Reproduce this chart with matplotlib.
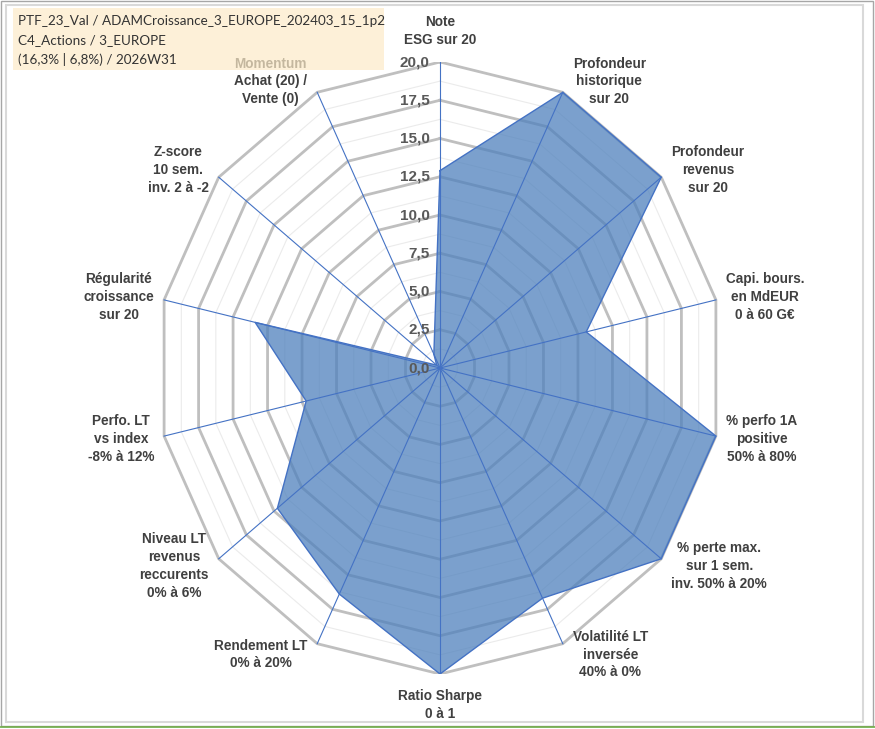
import matplotlib.pyplot as plt
import numpy as np
from matplotlib.patches import Rectangle

# Axis labels, clockwise from the top
categories = [
    "Note\nESG sur 20",
    "Profondeur\nhistorique\nsur 20",
    "Profondeur\nrevenus\nsur 20",
    "Capi. bours.\nen MdEUR\n0 à 60 G€",
    "% perfo 1A\npositive\n50% à 80%",
    "% perte max.\nsur 1 sem.\ninv. 50% à 20%",
    "Volatilité LT\ninversée\n40% à 0%",
    "Ratio Sharpe\n0 à 1",
    "Rendement LT\n0% à 20%",
    "Niveau LT\nrevenus\nreccurents\n0% à 6%",
    "Perfo. LT\nvs index\n-8% à 12%",
    "Régularité\ncroissance\nsur 20",
    "Z-score\n10 sem.\ninv. 2 à -2",
    "Momentum\nAchat (20) /\nVente (0)",
]
scores = [12.9, 20.0, 20.0, 10.6, 20.0, 20.0, 16.7, 20.0, 16.4, 14.7, 9.7, 13.4, 0.3, 1.0]
major_ticks = [0, 2.5, 5, 7.5, 10, 12.5, 15, 17.5, 20]
tick_labels = ["0,0", "2,5", "5,0", "7,5", "10,0", "12,5", "15,0", "17,5", "20,0"]
title_lines = [
    "PTF_23_Val / ADAMCroissance_3_EUROPE_202403_15_1p2",
    "C4_Actions / 3_EUROPE",
    "(16,3% | 6,8%) / 2026W31",
]

W, H = 875, 729
fig = plt.figure(figsize=(W / 100, H / 100), dpi=100)

# chart frame
fig.patches.append(Rectangle((6 / W, 1 - 722 / H), 857 / W, 717 / H, transform=fig.transFigure,
                             fill=False, edgecolor="#D9D9D9", lw=1.5))
fig.patches.append(Rectangle((1 / W, 1 - 726 / H), 872 / W, 725 / H, transform=fig.transFigure,
                             fill=False, edgecolor="#A6A6A6", lw=1))
fig.lines.append(plt.Line2D([0, 1], [1 - 726.5 / H] * 2, transform=fig.transFigure,
                            color="#70AD47", lw=1.2))

# radar area: centre at (440, 368) px, radii 283 px (x) and 306 px (y)
cx, cy, rx, ry = 440, 368, 283, 306
ax = fig.add_axes([(cx - rx) / W, 1 - (cy + ry) / H, 2 * rx / W, 2 * ry / H])
ax.set_xlim(-20, 20)
ax.set_ylim(-20, 20)
ax.axis("off")

n = len(categories)
theta = np.arange(n) * 2 * np.pi / n
sx, cy_ = np.sin(theta), np.cos(theta)

def ring(r):
    return np.append(r * sx, r * sx[0]), np.append(r * cy_, r * cy_[0])

# minor then major polygon grid
for r in np.arange(1.25, 20, 2.5):
    x, y = ring(r)
    ax.plot(x, y, color="#EBEBEB", lw=0.8, zorder=1)
for r in major_ticks[1:]:
    x, y = ring(r)
    ax.plot(x, y, color="#BFBFBF", lw=2.0, zorder=1, solid_joinstyle="miter")

# data polygon
vals = np.array(scores)
px = np.append(vals * sx, vals[0] * sx[0])
py = np.append(vals * cy_, vals[0] * cy_[0])
ax.fill(px, py, color="#4F81BD", alpha=0.75, zorder=2, lw=0)
ax.plot(px, py, color="#4472C4", lw=1.0, zorder=3)

# spokes
for s, c in zip(sx, cy_):
    ax.plot([0, 20 * s], [0, 20 * c], color="#4472C4", lw=0.8, zorder=4)

# radial tick labels
for t, lab in zip(major_ticks, tick_labels):
    ax.text(-0.75, t, lab, ha="right", va="center", fontsize=11, fontweight="bold",
            color="#595959", family="Liberation Sans", zorder=5)

# category labels: a small gap sideways from the outer vertex
ux, uy = 20 / rx, 20 / ry  # data units per pixel
for lab, s, c in zip(categories, sx, cy_):
    x0, y0 = 20 * s, 20 * c
    if abs(s) < 0.1:
        x, y, ha = x0, y0 + np.sign(c) * 31 * uy, "center"
    else:
        x, y = x0 + np.sign(s) * 10 * ux, y0 + c * 12 * uy
        ha = "left" if s > 0 else "right"
    ax.text(x, y, lab, ha=ha, va="center", multialignment="center", fontsize=9.8,
            fontweight="bold", color="#404040", family="Liberation Sans",
            linespacing=1.35, zorder=5, clip_on=False)

# info box in the top left corner (slightly transparent, covers "Momentum")
fig.patches.append(Rectangle((13 / W, 1 - 70 / H), 371 / W, 62 / H, transform=fig.transFigure,
                             facecolor="#FDEBC8", edgecolor="none", alpha=0.7, zorder=10))
for i, line in enumerate(title_lines):
    fig.text(18 / W, 1 - (21 + 19 * i) / H, line, ha="left", va="center", fontsize=9.7,
             color="#333333", family="Lato", zorder=11)

fig.savefig("out.png", dpi=100)
